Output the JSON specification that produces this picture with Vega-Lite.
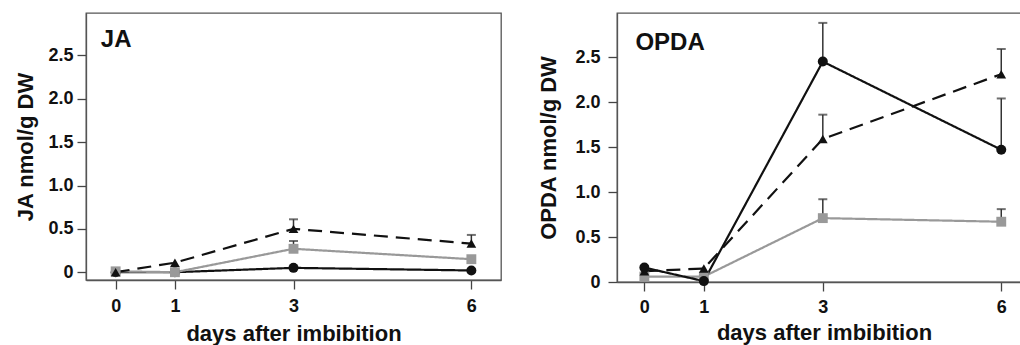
{
  "$schema": "https://vega.github.io/schema/vega-lite/v6.json",
  "background": "white",
  "padding": {"left": 14, "top": 12, "right": 0, "bottom": 0},
  "spacing": 35,
  "config": {
    "font": "Liberation Sans",
    "view": {"stroke": "#555", "strokeWidth": 1.3},
    "axis": {
      "grid": false,
      "labelFont": "Liberation Sans",
      "labelFontWeight": "bold",
      "labelFontSize": 18,
      "labelColor": "#111",
      "titleFont": "Liberation Sans",
      "titleFontWeight": "bold",
      "titleFontSize": 22,
      "titleColor": "#111",
      "tickColor": "#444",
      "tickSize": 9,
      "tickWidth": 1.3,
      "domainColor": "#555",
      "domainWidth": 1.3
    }
  },
  "datasets": {
    "ja": [
      {"series": "circle", "day": 0, "value": 0.0, "upper": null},
      {"series": "circle", "day": 1, "value": 0.0, "upper": null},
      {"series": "circle", "day": 3, "value": 0.05, "upper": null},
      {"series": "circle", "day": 6, "value": 0.02, "upper": null},
      {"series": "square", "day": 0, "value": 0.01, "upper": null},
      {"series": "square", "day": 1, "value": 0.0, "upper": null},
      {"series": "square", "day": 3, "value": 0.27, "upper": 0.36},
      {"series": "square", "day": 6, "value": 0.15, "upper": null},
      {"series": "triangle", "day": 0, "value": 0.0, "upper": null},
      {"series": "triangle", "day": 1, "value": 0.11, "upper": null},
      {"series": "triangle", "day": 3, "value": 0.5, "upper": 0.61},
      {"series": "triangle", "day": 6, "value": 0.33, "upper": 0.43}
    ],
    "opda": [
      {"series": "square", "day": 0, "value": 0.06, "upper": null},
      {"series": "square", "day": 1, "value": 0.06, "upper": null},
      {"series": "square", "day": 3, "value": 0.71, "upper": 0.92},
      {"series": "square", "day": 6, "value": 0.67, "upper": 0.81},
      {"series": "triangle", "day": 0, "value": 0.12, "upper": null},
      {"series": "triangle", "day": 1, "value": 0.15, "upper": null},
      {"series": "triangle", "day": 3, "value": 1.59, "upper": 1.86},
      {"series": "triangle", "day": 6, "value": 2.31, "upper": 2.59},
      {"series": "circle", "day": 0, "value": 0.16, "upper": null},
      {"series": "circle", "day": 1, "value": 0.01, "upper": null},
      {"series": "circle", "day": 3, "value": 2.45, "upper": 2.88},
      {"series": "circle", "day": 6, "value": 1.47, "upper": 2.04}
    ],
    "jaLabel": [{"label": "JA"}],
    "opdaLabel": [{"label": "OPDA"}]
  },
  "hconcat": [
    {
      "width": 415,
      "height": 267,
      "layer": [
        {
          "data": {"name": "ja"},
          "mark": {"type": "line", "strokeWidth": 2.2},
          "encoding": {
            "x": {"field": "day", "type": "quantitative", "scale": {"domain": [-0.5, 6.5], "nice": false, "zero": false},
              "axis": {"values": [0, 1, 3, 6], "title": "days after imbibition", "labelPadding": 8, "titlePadding": 8, "format": "d"}},
            "y": {"field": "value", "type": "quantitative", "scale": {"domain": [-0.09, 2.99], "nice": false, "zero": false},
              "axis": {"values": [0, 0.5, 1, 1.5, 2, 2.5], "title": "JA nmol/g DW", "labelPadding": 4, "titlePadding": 10,
                "labelExpr": "datum.value == 0 ? '0' : format(datum.value, '.1f')"}},
            "detail": {"field": "series"},
            "color": {"field": "series", "type": "nominal", "scale": {"domain": ["circle", "square", "triangle"], "range": ["#111111", "#999999", "#111111"]}, "legend": null},
            "strokeDash": {"field": "series", "type": "nominal", "scale": {"domain": ["circle", "square", "triangle"], "range": [[1, 0], [1, 0], [14, 8]]}, "legend": null}
          }
        },
        {
          "data": {"name": "ja"},
          "transform": [{"filter": "isValid(datum.upper)"}],
          "mark": {"type": "rule", "color": "#333", "strokeWidth": 1.5},
          "encoding": {
            "x": {"field": "day", "type": "quantitative"},
            "y": {"field": "value", "type": "quantitative"},
            "y2": {"field": "upper"}
          }
        },
        {
          "data": {"name": "ja"},
          "transform": [{"filter": "isValid(datum.upper)"}],
          "mark": {"type": "tick", "orient": "horizontal", "color": "#333", "size": 9, "thickness": 2},
          "encoding": {
            "x": {"field": "day", "type": "quantitative"},
            "y": {"field": "upper", "type": "quantitative"}
          }
        },
        {
          "data": {"name": "ja"},
          "mark": {"type": "point", "filled": true, "opacity": 1},
          "encoding": {
            "x": {"field": "day", "type": "quantitative"},
            "y": {"field": "value", "type": "quantitative"},
            "shape": {"field": "series", "type": "nominal", "scale": {"domain": ["circle", "square", "triangle"], "range": ["circle", "square", "triangle-up"]}, "legend": null},
            "color": {"field": "series", "type": "nominal", "scale": {"domain": ["circle", "square", "triangle"], "range": ["#111111", "#999999", "#111111"]}, "legend": null},
            "size": {"field": "series", "type": "nominal", "scale": {"domain": ["circle", "square", "triangle"], "range": [100, 95, 170]}, "legend": null}
          }
        },
        {
          "data": {"name": "jaLabel"},
          "mark": {"type": "text", "align": "left", "baseline": "middle", "fontSize": 24, "fontWeight": "bold", "color": "#111"},
          "encoding": {
            "text": {"field": "label", "type": "nominal"},
            "x": {"datum": -0.25, "type": "quantitative"},
            "y": {"datum": 2.68, "type": "quantitative"}
          }
        }
      ]
    },
    {
      "width": 414,
      "height": 269,
      "layer": [
        {
          "data": {"name": "opda"},
          "mark": {"type": "line", "strokeWidth": 2.2},
          "encoding": {
            "x": {"field": "day", "type": "quantitative", "scale": {"domain": [-0.46, 6.5], "nice": false, "zero": false},
              "axis": {"values": [0, 1, 3, 6], "title": "days after imbibition", "labelPadding": 7, "titlePadding": 6, "format": "d"}},
            "y": {"field": "value", "type": "quantitative", "scale": {"domain": [0, 2.99], "nice": false, "zero": false},
              "axis": {"values": [0, 0.5, 1, 1.5, 2, 2.5], "title": "OPDA nmol/g DW", "labelPadding": 8, "titlePadding": 14,
                "labelExpr": "datum.value == 0 ? '0' : format(datum.value, '.1f')"}},
            "detail": {"field": "series"},
            "color": {"field": "series", "type": "nominal", "scale": {"domain": ["circle", "square", "triangle"], "range": ["#111111", "#999999", "#111111"]}, "legend": null},
            "strokeDash": {"field": "series", "type": "nominal", "scale": {"domain": ["circle", "square", "triangle"], "range": [[1, 0], [1, 0], [14, 8]]}, "legend": null}
          }
        },
        {
          "data": {"name": "opda"},
          "transform": [{"filter": "isValid(datum.upper)"}],
          "mark": {"type": "rule", "color": "#333", "strokeWidth": 1.5},
          "encoding": {
            "x": {"field": "day", "type": "quantitative"},
            "y": {"field": "value", "type": "quantitative"},
            "y2": {"field": "upper"}
          }
        },
        {
          "data": {"name": "opda"},
          "transform": [{"filter": "isValid(datum.upper)"}],
          "mark": {"type": "tick", "orient": "horizontal", "color": "#333", "size": 9, "thickness": 2},
          "encoding": {
            "x": {"field": "day", "type": "quantitative"},
            "y": {"field": "upper", "type": "quantitative"}
          }
        },
        {
          "data": {"name": "opda"},
          "mark": {"type": "point", "filled": true, "opacity": 1},
          "encoding": {
            "x": {"field": "day", "type": "quantitative"},
            "y": {"field": "value", "type": "quantitative"},
            "shape": {"field": "series", "type": "nominal", "scale": {"domain": ["circle", "square", "triangle"], "range": ["circle", "square", "triangle-up"]}, "legend": null},
            "color": {"field": "series", "type": "nominal", "scale": {"domain": ["circle", "square", "triangle"], "range": ["#111111", "#999999", "#111111"]}, "legend": null},
            "size": {"field": "series", "type": "nominal", "scale": {"domain": ["circle", "square", "triangle"], "range": [100, 95, 170]}, "legend": null}
          }
        },
        {
          "data": {"name": "opdaLabel"},
          "mark": {"type": "text", "align": "left", "baseline": "middle", "fontSize": 24, "fontWeight": "bold", "color": "#111"},
          "encoding": {
            "text": {"field": "label", "type": "nominal"},
            "x": {"datum": -0.15, "type": "quantitative"},
            "y": {"datum": 2.66, "type": "quantitative"}
          }
        }
      ]
    }
  ]
}
